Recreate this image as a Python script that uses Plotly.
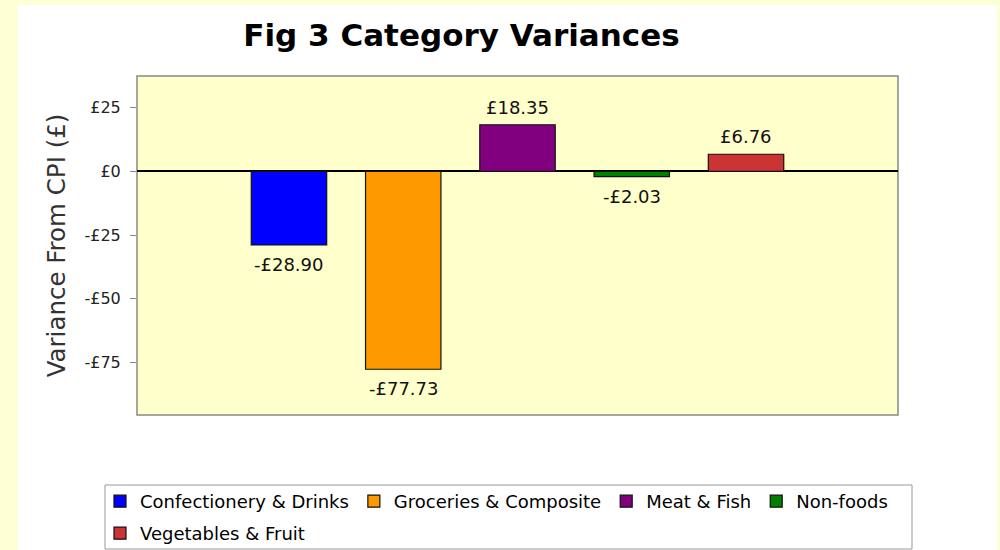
import plotly.graph_objects as go

categories = ["Confectionery & Drinks", "Groceries & Composite", "Meat & Fish", "Non-foods", "Vegetables & Fruit"]
values = [-28.90, -77.73, 18.35, -2.03, 6.76]
labels = ["-£28.90", "-£77.73", "£18.35", "-£2.03", "£6.76"]
colors = ["#0000FF", "#FF9900", "#800080", "#008000", "#CC3333"]
legend_rows = ["legend", "legend", "legend", "legend", "legend2"]
tick_vals = [25, 0, -25, -50, -75]
tick_text = ["£25", "£0", "-£25", "-£50", "-£75"]

fig = go.Figure()
for i, (c, v, col, lg) in enumerate(zip(categories, values, colors, legend_rows)):
    fig.add_trace(go.Bar(
        x=[i], y=[v], name=c, width=0.66, legend=lg,
        marker=dict(color=col, line=dict(color="#111", width=1.2)),
        hoverinfo="skip",
    ))

annotations = []
for i, (v, t) in enumerate(zip(values, labels)):
    pos = v >= 0
    annotations.append(dict(
        x=i, y=v, xref="x", yref="y", text=t, showarrow=False,
        yanchor="bottom" if pos else "top", yshift=5 if pos else -7,
        font=dict(family="DejaVu Sans", size=18, color="#111"),
    ))

L, R, T, B = 137, 102, 76, 135
W, H = 1000, 550
pw, ph = W - L - R, H - T - B

def px(x):
    return (x - L) / pw

def py(y):
    return (H - B - y) / ph

legend_style = dict(
    orientation="h", xanchor="left", yanchor="top",
    bgcolor="rgba(0,0,0,0)", borderwidth=0,
    font=dict(family="DejaVu Sans", size=18, color="black"),
    traceorder="normal",
)

fig.update_layout(
    width=W, height=H,
    margin=dict(l=L, r=R, t=T, b=B, autoexpand=False),
    paper_bgcolor="#FFFFD6",
    plot_bgcolor="rgba(0,0,0,0)",
    barmode="overlay",
    showlegend=True,
    annotations=annotations,
    title=dict(
        text="<b>Fig 3 Category Variances</b>",
        font=dict(family="DejaVu Sans", size=31, color="black"),
        xref="container", yref="container", x=0.4615, y=1 - 35 / H,
        xanchor="center", yanchor="middle",
    ),
    xaxis=dict(range=[-1.33, 5.33], showticklabels=False, showgrid=False,
               zeroline=False, ticks="", fixedrange=True),
    yaxis=dict(range=[-95.7, 37.5], tickvals=tick_vals, ticktext=tick_text,
               showgrid=False, zeroline=True, zerolinecolor="black", zerolinewidth=1.5,
               ticks="outside", ticklen=6, tickcolor="#888", ticklabelstandoff=6,
               tickfont=dict(family="DejaVu Sans", size=16, color="#222"),
               fixedrange=True,
               title=dict(text="Variance From CPI (£)",
                          font=dict(family="DejaVu Sans", size=24.5, color="#333"),
                          standoff=11)),
    legend=dict(x=px(100), y=py(483), **legend_style),
    legend2=dict(x=px(100), y=py(515), **legend_style),
    shapes=[
        dict(type="rect", xref="paper", yref="paper", layer="below",
             x0=px(18), x1=px(997), y0=py(570), y1=py(5),
             fillcolor="white", line=dict(width=0)),
        dict(type="rect", xref="paper", yref="paper", layer="below",
             x0=0, x1=1, y0=0, y1=1,
             fillcolor="#FFFFCC", line=dict(color="#888", width=1.5)),
        dict(type="rect", xref="paper", yref="paper", layer="below",
             x0=px(105), x1=px(912), y0=py(549), y1=py(485),
             fillcolor="white", line=dict(color="#999", width=1)),
    ],
)

fig.write_html("out.html", config={"displayModeBar": False},
               post_script="document.body.style.margin='0';document.body.style.overflow='hidden';")
